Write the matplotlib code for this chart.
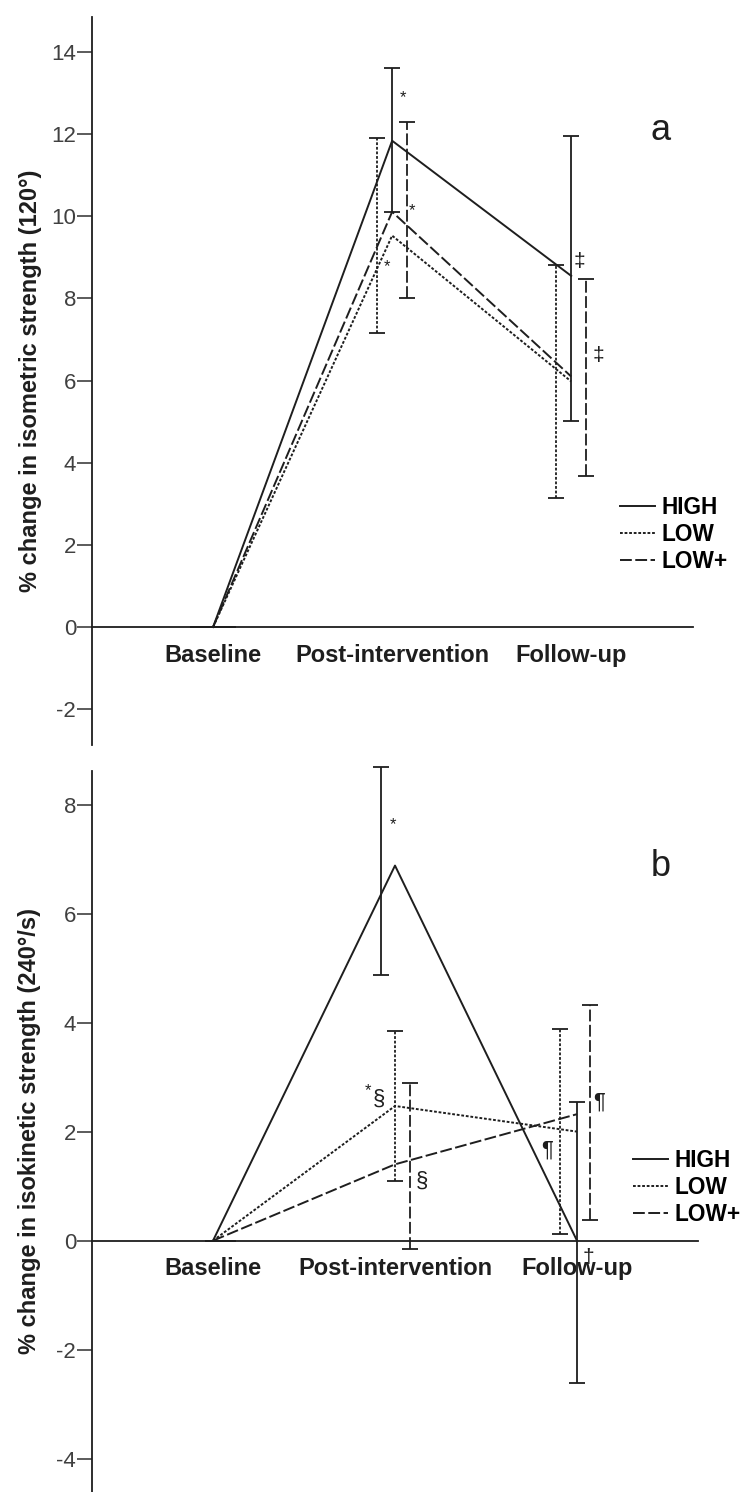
import matplotlib
matplotlib.use('Agg')
import matplotlib.pyplot as plt

plt.rcParams['font.family'] = ['Liberation Sans', 'DejaVu Sans']
plt.rcParams['lines.scale_dashes'] = False
plt.rcParams['axes.unicode_minus'] = False

# ---- data ----
timepoints = ['Baseline', 'Post-intervention', 'Follow-up']
groups = ['HIGH', 'LOW', 'LOW+']

# panel a: % change in isometric strength (120°), mean and [lower, upper] error bar ends
iso_high = [0.0, 11.84, 8.55]
iso_high_err = [[0.0, 10.11, 5.02], [0.0, 13.62, 11.96]]
iso_low = [0.0, 9.53, 5.98]
iso_low_err = [[0.0, 7.15, 3.14], [0.0, 11.91, 8.81]]
iso_lowp = [0.0, 10.11, 6.10]
iso_lowp_err = [[0.0, 8.00, 3.67], [0.0, 12.30, 8.47]]

# panel b: % change in isokinetic strength (240°/s)
kin_high = [0.0, 6.88, 0.0]
kin_high_err = [[0.0, 4.88, -2.61], [0.0, 8.68, 2.55]]
kin_low = [0.0, 2.47, 2.00]
kin_low_err = [[0.0, 1.10, 0.13], [0.0, 3.85, 3.88]]
kin_lowp = [0.0, 1.40, 2.32]
kin_lowp_err = [[0.0, -0.16, 0.37], [0.0, 2.89, 4.32]]

W, H = 742, 1492
ink = '#1e1e1e'
grey = '#404040'
line_styles = {'HIGH': 'solid', 'LOW': (0, (2.0, 1.3)), 'LOW+': (0, (8.5, 2.5))}


def px_rect(l, t, r, b):
    return [l / W, 1 - b / H, (r - l) / W, (b - t) / H]


def draw_panel(ax, means, errs, dodge, xlim, ylim, yticks, ylabel, letter, notes, legend_xy):
    x = [1, 2, 3]
    for g in groups:
        ls = line_styles[g]
        ax.plot(x, means[g], color=ink, lw=1.4, linestyle=ls, label=g)
        lo, hi = errs[g]
        xe = [xi + d for xi, d in zip(x, dodge[g])]
        yerr = [[m - l for m, l in zip(means[g], lo)],
                [h - m for m, h in zip(means[g], hi)]]
        eb = ax.errorbar(xe, means[g], yerr=yerr, fmt='none', ecolor=ink,
                         elinewidth=1.3, capsize=5.5, capthick=1.3, clip_on=False)
        eb[2][0].set_linestyle(ls)

    ax.set_xlim(*xlim)
    ax.set_ylim(*ylim)

    # spines first: moving the bottom spine resets the tick labels
    for s in ['top', 'right']:
        ax.spines[s].set_visible(False)
    ax.spines['bottom'].set_position(('data', 0))
    for s in ['left', 'bottom']:
        ax.spines[s].set_color(ink)
        ax.spines[s].set_linewidth(1.3)

    ax.set_yticks(yticks)
    ax.set_xticks(x)
    ax.set_xticklabels(timepoints, fontsize=17, fontweight='bold', color=ink)
    ax.tick_params(axis='x', length=0, pad=12)
    ax.tick_params(axis='y', direction='out', length=10.5, width=1.2,
                   pad=1, labelsize=16, labelcolor=grey, color=grey)

    ax.set_ylabel(ylabel, fontsize=17, fontweight='bold', color=ink)
    ax.yaxis.set_label_coords(-0.084, 0.5)

    ax.text(letter[1], letter[2], letter[0], fontsize=26, ha='center', va='center', color=ink)
    for txt, tx, ty, size in notes:
        ax.text(tx, ty, txt, fontsize=size, ha='center', va='center', color=ink)

    ax.legend(loc='upper left', bbox_to_anchor=(legend_xy[0] / W, 1 - legend_xy[1] / H),
              bbox_transform=fig.transFigure, frameon=False,
              prop={'weight': 'bold', 'size': 16.3}, handlelength=1.55,
              handletextpad=0.3, labelspacing=0.17, borderpad=0, borderaxespad=0)


fig = plt.figure(figsize=(W / 100, H / 100), dpi=100)
ax_a = fig.add_axes(px_rect(92, 16.7, 693, 745))
ax_b = fig.add_axes(px_rect(92, 770.7, 698, 1492))

# panel a
draw_panel(
    ax_a,
    {'HIGH': iso_high, 'LOW': iso_low, 'LOW+': iso_lowp},
    {'HIGH': iso_high_err, 'LOW': iso_low_err, 'LOW+': iso_lowp_err},
    {'HIGH': [0, 0, 0], 'LOW': [-0.084, -0.084, -0.084], 'LOW+': [0.084, 0.084, 0.084]},
    (0.324, 3.68), (-2.87, 14.86), range(-2, 15, 2),
    '% change in isometric strength (120°)',
    ('a', 3.497, 12.08),
    [('*', 2.061, 12.9, 12), ('*', 2.112, 10.13, 12), ('*', 1.972, 8.77, 12),
     ('‡', 3.045, 8.89, 15), ('‡', 3.151, 6.6, 15)],
    (620, 496),
)

# panel b
draw_panel(
    ax_b,
    {'HIGH': kin_high, 'LOW': kin_low, 'LOW+': kin_lowp},
    {'HIGH': kin_high_err, 'LOW': kin_low_err, 'LOW+': kin_lowp_err},
    {'HIGH': [0, -0.077, 0], 'LOW': [0, 0, -0.095], 'LOW+': [0.08, 0.08, 0.07]},
    (0.335, 3.665), (-4.61, 8.62), range(-4, 9, 2),
    '% change in isokinetic strength (240°/s)',
    ('b', 3.461, 6.87),
    [('*', 1.989, 7.64, 12), ('*', 1.851, 2.76, 12), ('§', 1.912, 2.6, 16),
     ('§', 2.148, 1.09, 16), ('¶', 2.835, 1.67, 16), ('¶', 3.121, 2.54, 16),
     ('†', 3.06, -0.31, 15)],
    (633, 1149),
)

fig.savefig('out.png', dpi=100)
